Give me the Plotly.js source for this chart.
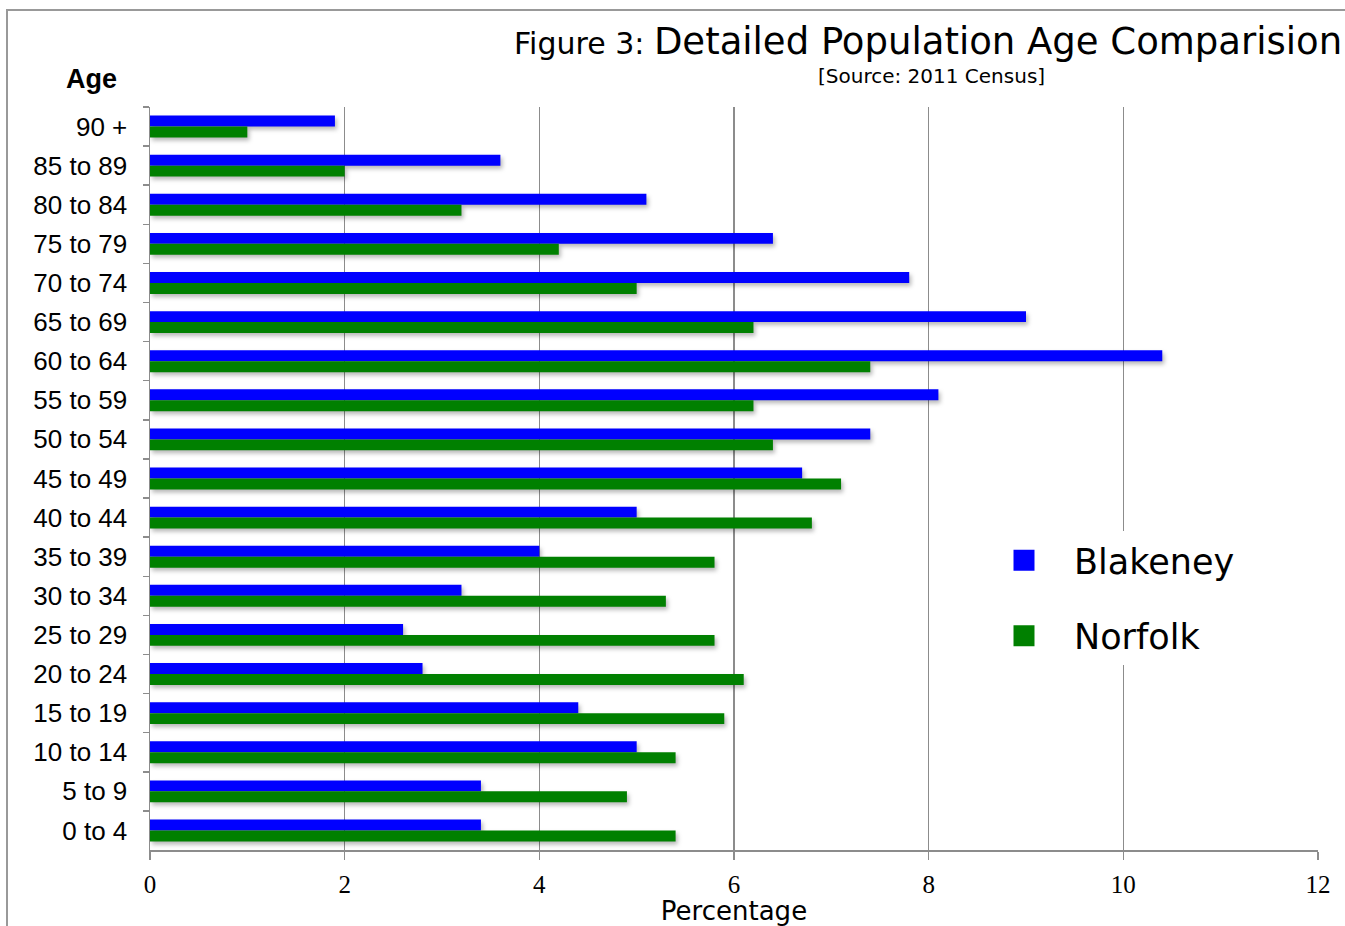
<!DOCTYPE html>
<html>
<head>
<meta charset="utf-8">
<script src="https://cdn.plot.ly/plotly-3.0.1.min.js"></script>
<style>
  html, body { margin: 0; padding: 0; background: #fff; }
  #chart { width: 1345px; height: 926px; }
  .trace.bars path { filter: drop-shadow(2px 3px 2px rgba(0,0,0,0.28)); }
</style>
</head>
<body>
<div id="chart"></div>
<script>
// Age bands, top to bottom
const ageGroups = ["90 +", "85 to 89", "80 to 84", "75 to 79", "70 to 74", "65 to 69",
  "60 to 64", "55 to 59", "50 to 54", "45 to 49", "40 to 44", "35 to 39", "30 to 34",
  "25 to 29", "20 to 24", "15 to 19", "10 to 14", "5 to 9", "0 to 4"];

// Share of population in each band (%)
const blakeney = [1.9, 3.6, 5.1, 6.4, 7.8, 9.0, 10.4, 8.1, 7.4, 6.7, 5.0, 4.0, 3.2, 2.6, 2.8, 4.4, 5.0, 3.4, 3.4];
const norfolk  = [1.0, 2.0, 3.2, 4.2, 5.0, 6.2, 7.4, 6.2, 6.4, 7.1, 6.8, 5.8, 5.3, 5.8, 6.1, 5.9, 5.4, 4.9, 5.4];

const xTicks = [0, 2, 4, 6, 8, 10, 12];

const gothic = "'DejaVu Sans', 'Open Sans', sans-serif";
const grey = "#8c8c8c";

const traces = [
  { type: "bar", orientation: "h", name: "Blakeney", y: ageGroups, x: blakeney,
    marker: { color: "#0000ff" }, legendgroup: "b" },
  { type: "bar", orientation: "h", name: "Norfolk", y: ageGroups, x: norfolk,
    marker: { color: "#008000" }, legendgroup: "n" }
];

const layout = {
  width: 1345, height: 926,
  margin: { l: 150, r: 27, t: 107, b: 76 },
  paper_bgcolor: "#fff", plot_bgcolor: "#fff",
  barmode: "group", bargap: 0.44, bargroupgap: 0,
  showlegend: true,
  legend: {
    x: (974 - 150) / 1168, y: (850 - 531) / 743, xanchor: "left", yanchor: "top",
    bgcolor: "#fff", font: { family: gothic, size: 35, color: "#000" },
    traceorder: "grouped", tracegroupgap: 27, itemwidth: 90
  },
  xaxis: {
    range: [0, 12], tickvals: xTicks, ticktext: xTicks.map(String),
    showgrid: true, gridcolor: grey, gridwidth: 1.5, zeroline: false,
    showline: true, linecolor: grey, linewidth: 1.5,
    ticks: "outside", ticklen: 8, tickcolor: grey, tickwidth: 1.5,
    tickfont: { family: "'Liberation Serif', serif", size: 25, color: "#000" },
    ticklabelstandoff: 3,
    title: { text: "Percentage", font: { family: gothic, size: 26, color: "#000" }, standoff: 10 },
    fixedrange: true
  },
  yaxis: {
    type: "category", autorange: false, range: [18.5, -0.5],
    showgrid: false, zeroline: false,
    showline: true, linecolor: grey, linewidth: 1.5,
    ticks: "outside", tickson: "boundaries", ticklen: 6, tickcolor: grey, tickwidth: 1.5,
    tickfont: { family: "'Liberation Sans', Arial, sans-serif", size: 26, color: "#000" },
    ticklabelstandoff: 16,
    fixedrange: true
  },
  shapes: [
    { type: "rect", xref: "paper", yref: "paper",
      x0: (7 - 150) / 1168, x1: 1.3, y0: -0.3, y1: (850 - 10) / 743,
      line: { color: "#999", width: 2 }, fillcolor: "rgba(0,0,0,0)", layer: "below" }
  ],
  annotations: [
    { xref: "paper", yref: "paper", x: (1344 - 150) / 1168, y: (850 - 41) / 743,
      xanchor: "right", yanchor: "middle", showarrow: false,
      text: "<span style='font-size:30px'>Figure 3: </span>Detailed Population Age Comparision",
      font: { family: gothic, size: 37, color: "#000" } },
    { xref: "paper", yref: "paper", x: (931 - 150) / 1168, y: (850 - 76) / 743,
      xanchor: "center", yanchor: "middle", showarrow: false,
      text: "[Source: 2011 Census]",
      font: { family: gothic, size: 20, color: "#000" } },
    { xref: "paper", yref: "paper", x: (91 - 150) / 1168, y: (850 - 79) / 743,
      xanchor: "center", yanchor: "middle", showarrow: false,
      text: "<b>Age</b>",
      font: { family: "'Liberation Sans', Arial, sans-serif", size: 27, color: "#000" } }
  ]
};

Plotly.newPlot("chart", traces, layout, { staticPlot: true, displayModeBar: false }).then(function (gd) {
  // square legend swatches, 21px across
  document.querySelectorAll(".legendpoints path").forEach(function (p) {
    p.setAttribute("d", "M10.5,10.5H-10.5V-10.5H10.5Z");
  });
});
</script>
</body>
</html>
